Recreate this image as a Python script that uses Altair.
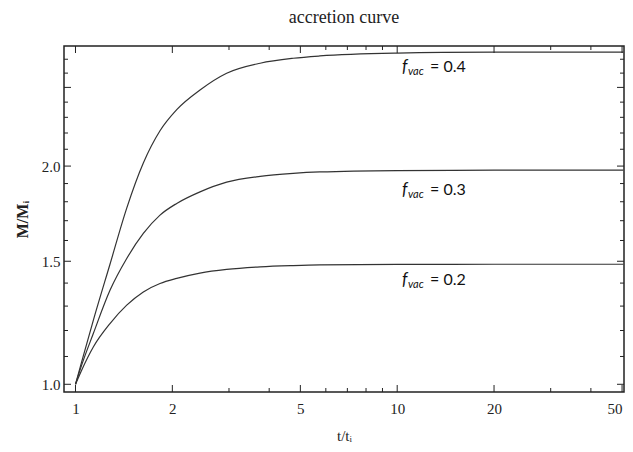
import altair as alt
import pandas as pd

# ---- data ----
t_vals = [1, 1.045, 1.136, 1.28, 1.443, 1.625, 1.831, 2.064, 2.438, 2.95, 3.75, 4.75, 5.75, 10, 20, 50.5]
m_f04 = [1.0, 1.080, 1.241, 1.486, 1.766, 2.018, 2.214, 2.350, 2.482, 2.599, 2.671, 2.707, 2.724, 2.745, 2.752, 2.753]
m_f03 = [1.0, 1.068, 1.188, 1.368, 1.513, 1.635, 1.729, 1.791, 1.854, 1.908, 1.941, 1.958, 1.966, 1.974, 1.976, 1.977]
m_f02 = [1.0, 1.050, 1.136, 1.228, 1.304, 1.361, 1.398, 1.421, 1.445, 1.462, 1.474, 1.480, 1.483, 1.485, 1.486, 1.486]

series_names = ["0.4", "0.3", "0.2"]
label_t = [12.65, 12.65, 12.65]
label_m = [2.6437, 1.8635, 1.4130]
label_text = ["= 0.4", "= 0.3", "= 0.2"]

x_major_ticks = [1, 2, 5, 10, 20, 50]
x_minor_ticks = [3, 4, 6, 7, 8, 9, 30, 40]
y_major_ticks = [1.0, 1.5, 2.0, 2.5]
y_minor_ticks = [1.1, 1.2, 1.3, 1.4, 1.6, 1.7, 1.8, 1.9, 2.1, 2.2, 2.3, 2.4, 2.6, 2.7]
y_label_ticks = [1.0, 1.5, 2.0]

W, H = 560, 346

rows = []
for name, vals in zip(series_names, [m_f04, m_f03, m_f02]):
    for t, m in zip(t_vals, vals):
        rows.append({"t": t, "m": m, "series": name})
curves = pd.DataFrame(rows)
labels = pd.DataFrame({"t": label_t, "m": label_m, "label": label_text})
xmaj = pd.DataFrame({"t": x_major_ticks})
xmin = pd.DataFrame({"t": x_minor_ticks})
ymaj = pd.DataFrame({"m": y_major_ticks})
ymin = pd.DataFrame({"m": y_minor_ticks})

xscale = alt.Scale(type="log", domain=[0.921, 50.7], nice=False)
yscale = alt.Scale(type="pow", exponent=0.25, domain=[0.9735, 2.798], zero=False, nice=False)

serif = "Liberation Serif"
ink = "#222222"

lines = alt.Chart(curves).mark_line(color="#333333", strokeWidth=1.2, interpolate="monotone").encode(
    x=alt.X("t:Q", scale=xscale,
            axis=alt.Axis(values=x_major_ticks, format="d", title="t/tᵢ", grid=False, domain=False,
                          ticks=False, tickSize=0, labelPadding=9, labelFont=serif, labelFontSize=15,
                          labelColor=ink, labelFlush=3, titleFont=serif, titleFontSize=15,
                          titleFontWeight="normal", titleColor=ink, titlePadding=12)),
    y=alt.Y("m:Q", scale=yscale,
            axis=alt.Axis(values=y_label_ticks, format=".1f", title="M/Mᵢ", grid=False, domain=False,
                          ticks=False, tickSize=0, labelPadding=4, labelFont=serif, labelFontSize=15,
                          labelColor=ink, titleFont=serif, titleFontSize=16, titleFontWeight="bold",
                          titleColor=ink, titlePadding=11)),
    detail="series:N",
)

def xticks(df, length):
    bottom = alt.Chart(df).mark_rule(color=ink, strokeWidth=1).encode(
        x=alt.X("t:Q", scale=xscale), y=alt.value(H), y2=alt.value(H - length))
    top = alt.Chart(df).mark_rule(color=ink, strokeWidth=1).encode(
        x=alt.X("t:Q", scale=xscale), y=alt.value(0), y2=alt.value(length))
    return bottom + top

def yticks(df, length):
    left = alt.Chart(df).mark_rule(color=ink, strokeWidth=1).encode(
        y=alt.Y("m:Q", scale=yscale), x=alt.value(0), x2=alt.value(length))
    right = alt.Chart(df).mark_rule(color=ink, strokeWidth=1).encode(
        y=alt.Y("m:Q", scale=yscale), x=alt.value(W), x2=alt.value(W - length))
    return left + right

lab_main = alt.Chart(labels).mark_text(font="Lato", fontSize=16, align="left", baseline="middle",
                                       color="#111111").encode(
    x=alt.X("t:Q", scale=xscale), y=alt.Y("m:Q", scale=yscale), text="label:N")
lab_f = alt.Chart(labels).mark_text(font="Lato", fontSize=17, fontStyle="italic", align="left",
                                    baseline="middle", color="#111111", dx=-28).encode(
    x=alt.X("t:Q", scale=xscale), y=alt.Y("m:Q", scale=yscale), text=alt.value("f"))
lab_sub = alt.Chart(labels).mark_text(font="Lato", fontSize=11, fontStyle="italic", align="left",
                                      baseline="middle", color="#111111", dx=-22, dy=5).encode(
    x=alt.X("t:Q", scale=xscale), y=alt.Y("m:Q", scale=yscale), text=alt.value("vac"))

chart = alt.layer(
    lines,
    xticks(xmaj, 7), xticks(xmin, 4),
    yticks(ymaj, 7), yticks(ymin, 4),
    lab_main, lab_f, lab_sub,
).properties(
    width=W, height=H,
    autosize=alt.AutoSizeParams(type="none"),
    padding={"left": 56, "top": 38, "right": 1, "bottom": 52},
    background="white",
    title=alt.TitleParams("accretion curve", font=serif, fontSize=18, fontWeight="normal",
                          color=ink, offset=19, anchor="middle"),
).configure_view(stroke=ink, strokeWidth=1.5)

chart.save("out.html", embed_options={"renderer": "svg", "actions": False})
